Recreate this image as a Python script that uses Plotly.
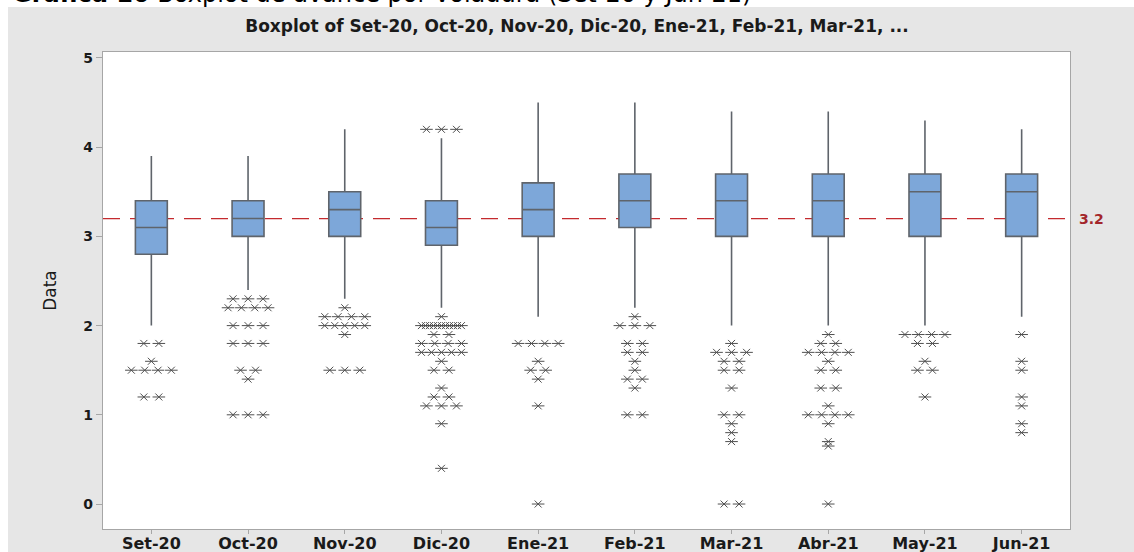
import plotly.graph_objects as go
from collections import Counter

# ---------------- data ----------------
categories = ["Set-20", "Oct-20", "Nov-20", "Dic-20", "Ene-21",
              "Feb-21", "Mar-21", "Abr-21", "May-21", "Jun-21"]
q1 = [2.8, 3.0, 3.0, 2.9, 3.0, 3.1, 3.0, 3.0, 3.0, 3.0]
median = [3.1, 3.2, 3.3, 3.1, 3.3, 3.4, 3.4, 3.4, 3.5, 3.5]
q3 = [3.4, 3.4, 3.5, 3.4, 3.6, 3.7, 3.7, 3.7, 3.7, 3.7]
lower_whisker = [2.0, 2.4, 2.3, 2.2, 2.1, 2.2, 2.0, 2.0, 2.0, 2.1]
upper_whisker = [3.9, 3.9, 4.2, 4.1, 4.5, 4.5, 4.4, 4.4, 4.3, 4.2]

out_set20 = [1.8, 1.8, 1.6, 1.5, 1.5, 1.5, 1.5, 1.2, 1.2]
out_oct20 = [2.3, 2.3, 2.3, 2.2, 2.2, 2.2, 2.2, 2.0, 2.0, 2.0, 1.8, 1.8, 1.8,
             1.5, 1.5, 1.4, 1.0, 1.0, 1.0]
out_nov20 = [2.2, 2.1, 2.1, 2.1, 2.1, 2.0, 2.0, 2.0, 2.0, 2.0, 1.9, 1.5, 1.5, 1.5]
out_dic20 = [4.2, 4.2, 4.2, 2.1] + [2.0] * 11 + [1.9, 1.9] + [1.8] * 4 + [1.7] * 5 + \
            [1.6, 1.5, 1.5, 1.3, 1.2, 1.2, 1.1, 1.1, 1.1, 0.9, 0.4]
out_ene21 = [1.8, 1.8, 1.8, 1.8, 1.6, 1.5, 1.5, 1.4, 1.1, 0.0]
out_feb21 = [2.1, 2.0, 2.0, 2.0, 1.8, 1.8, 1.7, 1.7, 1.6, 1.5, 1.4, 1.4, 1.3, 1.0, 1.0]
out_mar21 = [1.8, 1.7, 1.7, 1.7, 1.6, 1.6, 1.5, 1.5, 1.3, 1.0, 1.0, 0.9, 0.8, 0.7, 0.0, 0.0]
out_abr21 = [1.9, 1.8, 1.8, 1.7, 1.7, 1.7, 1.7, 1.6, 1.5, 1.5, 1.3, 1.3, 1.1,
             1.0, 1.0, 1.0, 1.0, 0.9, 0.7, 0.65, 0.0]
out_may21 = [1.9, 1.9, 1.9, 1.9, 1.8, 1.8, 1.6, 1.5, 1.5, 1.2]
out_jun21 = [1.9, 1.6, 1.5, 1.2, 1.1, 0.9, 0.8]
outliers = [out_set20, out_oct20, out_nov20, out_dic20, out_ene21,
            out_feb21, out_mar21, out_abr21, out_may21, out_jun21]

reference_value = 3.2
title_text = "Boxplot of Set-20, Oct-20, Nov-20, Dic-20, Ene-21, Feb-21, Mar-21, ..."
caption_bold = "Gráfica 10"
caption_rest = "Boxplot de avance por voladura (Set-20 y Jun-21)"
y_ticks = [0, 1, 2, 3, 4, 5]

# ---------------- layout geometry ----------------
W, H = 1134, 552
ML, MR, MT, MB = 103, 64, 52, 23
PW = W - ML - MR
PH = H - MT - MB
px_per_cat = PW / len(categories)

positions = list(range(1, len(categories) + 1))

# stack duplicate values side by side (as Minitab does)
ox, oy = [], []
for pos, vals in zip(positions, outliers):
    for v, n in Counter(vals).items():
        step = min(15.0, 40.0 / (n - 1)) if n > 1 else 0.0
        for i in range(n):
            ox.append(pos + (i - (n - 1) / 2) * step / px_per_cat)
            oy.append(v)

GRAY_BG = "#e6e6e6"
BOX_FILL = "#7da7d9"
BOX_LINE = "#5f646b"
FONT = "DejaVu Sans"
TXT = "#1a1a1a"

fig = go.Figure()

fig.add_trace(go.Box(
    x=positions, q1=q1, median=median, q3=q3,
    lowerfence=lower_whisker, upperfence=upper_whisker,
    width=0.33, whiskerwidth=0, boxpoints=False,
    fillcolor=BOX_FILL, line=dict(color=BOX_LINE, width=1.6),
    showlegend=False, hoverinfo="skip"))

for sym, size in (("x-thin-open", 7), ("line-ew-open", 9)):
    fig.add_trace(go.Scatter(
        x=ox, y=oy, mode="markers", showlegend=False, hoverinfo="skip",
        marker=dict(symbol=sym, size=size, color="#505050",
                    line=dict(color="#505050", width=1))))

# reference line
fig.add_shape(type="line", xref="paper", yref="y", x0=0, x1=1,
              y0=reference_value, y1=reference_value, layer="below",
              line=dict(color="#c42a2e", width=1.2, dash="17px,10px"))
fig.add_annotation(xref="paper", yref="y", x=1 + (1091 - (ML + PW)) / PW,
                   y=reference_value, text=f"<b>{reference_value}</b>",
                   showarrow=False, xanchor="center", yanchor="middle",
                   font=dict(family=FONT, size=14, color="#a3262b"))

# white strips around the gray panel
fig.add_shape(type="rect", xref="paper", yref="paper",
              x0=-ML / PW, x1=(W - ML) / PW, y0=1 + (MT - 7) / PH, y1=1 + MT / PH,
              fillcolor="white", line=dict(width=0), layer="below")
fig.add_shape(type="rect", xref="paper", yref="paper",
              x0=-ML / PW, x1=(8 - ML) / PW, y0=-MB / PH, y1=1 + MT / PH,
              fillcolor="white", line=dict(width=0), layer="below")

# cut-off caption at the very top of the page
fig.add_annotation(xref="paper", yref="paper", x=(10 - ML) / PW,
                   y=1 + (MT - 10.5) / PH, xanchor="left", yanchor="bottom",
                   text=f"<b>{caption_bold}</b> {caption_rest}",
                   showarrow=False,
                   font=dict(family=FONT, size=24, color="black"))

fig.update_layout(
    width=W, height=H,
    margin=dict(l=ML, r=MR, t=MT, b=MB, pad=0, autoexpand=False),
    paper_bgcolor=GRAY_BG, plot_bgcolor="white",
    font=dict(family=FONT, color=TXT),
    title=dict(text=f"<b>{title_text}</b>", x=(577 - ML) / PW, xref="paper",
               xanchor="center", y=1 - 26 / H, yanchor="middle",
               font=dict(family=FONT, size=17, color=TXT)),
    xaxis=dict(range=[0.5, len(categories) + 0.5], tickvals=positions,
               ticktext=[f"<b>{c}</b>" for c in categories], automargin=False,
               showgrid=False, zeroline=False, showline=True, mirror=True,
               linecolor="#a6a6a6", linewidth=1.2, ticks="outside", ticklen=4,
               tickcolor="#a6a6a6", tickfont=dict(size=16, family=FONT),
               ticklabelstandoff=-4),
    yaxis=dict(range=[-0.28, 5.067], tickvals=y_ticks, automargin=False,
               ticktext=[f"<b>{t}</b>" for t in y_ticks],
               showgrid=False, zeroline=False, showline=True, mirror=True,
               linecolor="#a6a6a6", linewidth=1.2, ticks="outside", ticklen=6,
               tickcolor="#a6a6a6", tickfont=dict(size=14, family=FONT),
               title=dict(text="Data", standoff=22,
                          font=dict(size=17, family=FONT))),
)

fig.write_html("out.html", config={"displayModeBar": False},
               post_script="document.body.style.margin='0';")
